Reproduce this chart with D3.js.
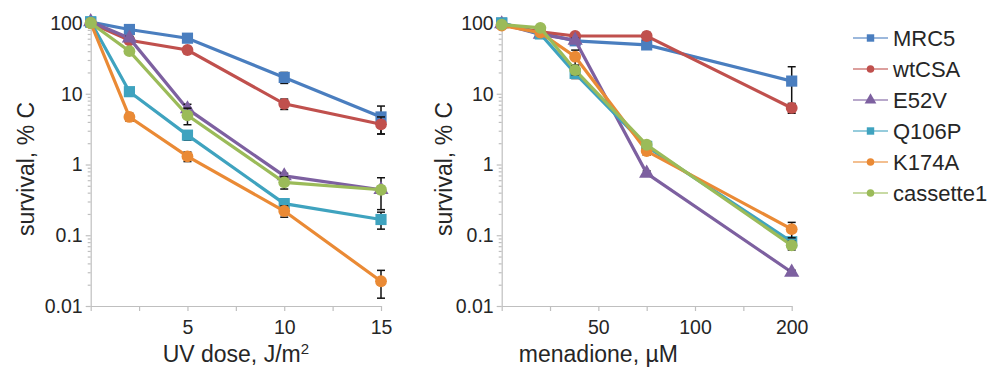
<!DOCTYPE html>
<html>
<head>
<meta charset="utf-8">
<script src="https://cdn.jsdelivr.net/npm/d3@7"></script>
<style>
  body { margin: 0; background: #fff; }
  text { font-family: "Liberation Sans", Arial, sans-serif; fill: #262626; }
  .axis path, .axis line { stroke: #bfbfbf; stroke-width: 1.2; }
</style>
</head>
<body>
<div id="chart"></div>
<script>
// series, in drawing order
var seriesNames = ["MRC5", "wtCSA", "E52V", "Q106P", "K174A", "cassette1"];
var seriesColors = ["#4a7ebf", "#c0504d", "#7d60a0", "#3fa3bf", "#ea8a35", "#9bbb59"];
var seriesShapes = ["square", "circle", "triangle", "square", "circle", "circle"];

// UV panel
var uvDose = [0, 2, 5, 10, 15];
var uvSurvival = [
  [103, 81, 61, 17, 4.7],
  [100, 57, 41.5, 7.2, 3.7],
  [104, 61, 6.1, 0.69, 0.44],
  [104, 10.7, 2.6, 0.28, 0.167],
  [100, 4.7, 1.3, 0.22, 0.0224],
  [100, 40, 4.95, 0.56, 0.44]
];
var uvError = [
  [0, 3, 4, 3, 2.0],
  [0, 4, 4, 1.2, 1.0],
  [0, 4, 1.0, 0.06, 0.21],
  [0, 1, 0.4, 0.03, 0.045],
  [0, 0.6, 0.2, 0.04, 0.0095],
  [0, 3, 1.3, 0.11, 0.05]
];
var uvTicks = [0, 2.5, 5, 7.5, 10, 12.5, 15];
var uvLabels = [5, 10, 15];

// menadione panel (last dose sits on a broken axis)
var menDose = [0, 20, 38, 75, 200];
var menSurvival = [
  [100, 72, 56, 49, 15.1],
  [95, 75, 65.5, 65.5, 6.3],
  [97, 69, 57, 0.75, 0.030],
  [100, 70, 19.4, 1.8, 0.081],
  [92, 73, 33.4, 1.55, 0.122],
  [95, 85.5, 21.6, 1.9, 0.072]
];
var menError = [
  [5, 5, 4, 5, 9],
  [5, 5, 5, 8, 1],
  [3, 4, 4, 0.06, 0.002],
  [4, 4, 3, 0.2, 0.01],
  [5, 5, 8, 0.2, 0.03],
  [4, 4, 3, 0.2, 0.01]
];
var menTicks = [0, 25, 50, 75, 100, 150, 200];
var menLabels = [50, 100, 200];

var yMajor = [0.01, 0.1, 1, 10, 100];

var svg = d3.select("#chart").append("svg")
    .attr("width", 994)
    .attr("height", 370);

var y = d3.scaleLog().domain([0.01, 120]).range([306, 17.4]);

function symbolFor(shape, size) {
  var t = shape == "square" ? d3.symbolSquare : shape == "triangle" ? d3.symbolTriangle : d3.symbolCircle;
  return d3.symbol().type(t).size(size)();
}

function drawPanel(opts) {
  var g = svg.append("g");
  var x = opts.x;

  // y axis: minor ticks then major ones
  var minor = [];
  for (var e = -2; e < 2; e++) {
    for (var k = 2; k <= 9; k++) minor.push(k * Math.pow(10, e));
  }
  g.append("g").attr("class", "axis")
      .attr("transform", "translate(" + x.range()[0] + ",0)")
      .call(d3.axisLeft(y).tickValues(minor).tickSize(3).tickFormat(""))
      .select(".domain").remove();
  var ya = g.append("g").attr("class", "axis")
      .attr("transform", "translate(" + x.range()[0] + ",0)")
      .call(d3.axisLeft(y).tickValues(yMajor).tickSize(5).tickSizeOuter(0)
            .tickPadding(3).tickFormat(function(d) { return d >= 1 ? d3.format("d")(d) : d; }));
  ya.selectAll("text").style("font-size", "19.5px").attr("fill", "#262626");

  // x axis
  var xa = g.append("g").attr("class", "axis")
      .attr("transform", "translate(0,306)")
      .call(d3.axisBottom(x).tickValues(opts.ticks).tickSize(5).tickSizeOuter(0).tickPadding(9)
            .tickFormat(function(d) { return opts.labels.indexOf(d) >= 0 ? d : ""; }));
  xa.selectAll("text").style("font-size", "19.5px").attr("fill", "#262626");

  // titles
  var xt = g.append("text")
      .attr("x", (x.range()[0] + x.range()[1]) / 2)
      .attr("y", 362)
      .attr("text-anchor", "middle")
      .style("font-size", "23px");
  opts.title(xt);

  g.append("text")
      .attr("transform", "translate(" + opts.yTitleX + ",169) rotate(-90)")
      .attr("text-anchor", "middle")
      .style("font-size", "23px")
      .text("survival, % C");

  var line = d3.line()
      .x(function(d) { return x(d.x); })
      .y(function(d) { return y(d.v); });

  seriesNames.forEach(function(name, i) {
    var pts = opts.dose.map(function(d, j) {
      return {x: d, v: opts.survival[i][j], e: opts.error[i][j]};
    });
    var col = seriesColors[i];

    g.append("path")
        .datum(pts)
        .attr("d", line)
        .attr("fill", "none")
        .attr("stroke", col)
        .attr("stroke-width", 3.2);

    var eb = g.append("g").selectAll("g")
        .data(pts.filter(function(d) { return d.e > 0; }))
        .enter().append("g")
        .attr("stroke", "#111")
        .attr("stroke-width", 1.5);
    eb.append("line")
        .attr("x1", function(d) { return x(d.x); })
        .attr("x2", function(d) { return x(d.x); })
        .attr("y1", function(d) { return y(d.v + d.e); })
        .attr("y2", function(d) { return y(Math.max(d.v - d.e, 0.005)); });
    [1, -1].forEach(function(s) {
      eb.append("line")
          .attr("x1", function(d) { return x(d.x) - 4; })
          .attr("x2", function(d) { return x(d.x) + 4; })
          .attr("y1", function(d) { return y(Math.max(d.v + s * d.e, 0.005)); })
          .attr("y2", function(d) { return y(Math.max(d.v + s * d.e, 0.005)); });
    });

    g.append("g").selectAll("path")
        .data(pts)
        .enter().append("path")
        .attr("transform", function(d) { return "translate(" + x(d.x) + "," + y(d.v) + ")"; })
        .attr("d", symbolFor(seriesShapes[i], seriesShapes[i] == "triangle" ? 100 : seriesShapes[i] == "square" ? 125 : 110))
        .attr("fill", col);
  });
}

drawPanel({
  x: d3.scaleLinear().domain([0, 15]).range([90.7, 381]),
  dose: uvDose, survival: uvSurvival, error: uvError,
  ticks: uvTicks, labels: uvLabels, yTitleX: 34,
  title: function(t) {
    t.append("tspan").text("UV dose, J/m");
    t.append("tspan").attr("dy", -8).style("font-size", "15px").text("2");
  }
});

drawPanel({
  x: d3.scaleLinear().domain([0, 100, 200]).range([501.7, 695, 791.7]),
  dose: menDose, survival: menSurvival, error: menError,
  ticks: menTicks, labels: menLabels, yTitleX: 452,
  title: function(t) { t.text("menadione, \u00b5M"); }
});

// legend
var legend = svg.append("g").attr("transform", "translate(853,38)");
var rows = legend.selectAll("g")
    .data(seriesNames)
    .enter().append("g")
    .attr("transform", function(d, i) { return "translate(0," + (i * 31) + ")"; });
rows.append("line")
    .attr("x1", 0).attr("x2", 35)
    .attr("stroke", function(d, i) { return seriesColors[i]; })
    .attr("stroke-opacity", 0.55)
    .attr("stroke-width", 2);
rows.append("path")
    .attr("transform", "translate(17.5,0)")
    .attr("d", function(d, i) { return symbolFor(seriesShapes[i], seriesShapes[i] == "triangle" ? 60 : seriesShapes[i] == "square" ? 55 : 45); })
    .attr("fill", function(d, i) { return seriesColors[i]; });
rows.append("text")
    .attr("x", 40)
    .attr("dy", "0.35em")
    .style("font-size", "22px")
    .text(function(d) { return d; });
</script>
</body>
</html>
